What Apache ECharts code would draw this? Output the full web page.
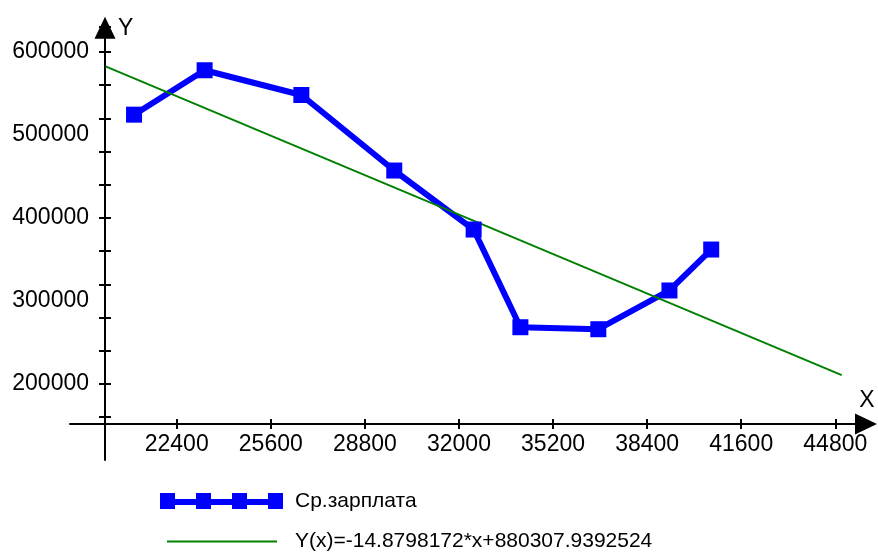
<!DOCTYPE html>
<html>
<head>
<meta charset="utf-8">
<script src="https://cdn.jsdelivr.net/npm/echarts@6/dist/echarts.min.js"></script>
<style>
  html, body { margin: 0; padding: 0; background: #fff; }
  #chart { width: 878px; height: 556px; }
</style>
</head>
<body>
<div id="chart"></div>
<script>
// salary points (x, y)
const salaryX = [20950, 23350, 26640, 29800, 32500, 34090, 36740, 39160, 40580];
const salaryY = [524500, 578000, 548200, 457200, 386100, 268400, 266000, 312700, 362000];
// trend line end points
const trendX = [19980, 45020];
const trendY = [582700, 210600];
// axis steps
const xStep = 3200;
const yTickStep = 40000;
const yLabelStep = 100000;

const salaryName = "Ср.зарплата";
const trendName = "Y(x)=-14.8798172*x+880307.9392524";

const font = "'Liberation Sans', Arial, sans-serif";
const black = "#000";

const pair = (xs, ys) => xs.map((x, i) => [x, ys[i]]);
const plain = (v) => String(v);

// legend icons (130 x 16 box)
const salaryIcon = "path://M0,0h15v16h-15z M36,0h15v16h-15z M72,0h15v16h-15z M108,0h15v16h-15z M0,6h123v6h-123z M130,0L130,16";
const trendIcon = "path://M0,0L0,16 M130,0L130,16 M7,7h110v2h-110z";

const chart = echarts.init(document.getElementById("chart"));

const tickAxisX = (inside, extra) => Object.assign({
  type: "value", gridIndex: 0, position: "bottom", offset: 6.8,
  min: 22400, max: 45600, interval: xStep,
  axisLine: { show: false, onZero: false },
  axisTick: { show: true, inside: inside, length: 5, lineStyle: { color: black, width: 2 } },
  axisLabel: { show: false },
  splitLine: { show: false }
}, extra || {});

const tickAxisY = (inside) => ({
  type: "value", gridIndex: 0, position: "left", offset: 71.7,
  min: 160000, max: 630000, interval: yTickStep,
  axisLine: { show: false, onZero: false },
  axisTick: { show: true, inside: inside, length: 6, lineStyle: { color: black, width: 2 } },
  axisLabel: { show: false },
  splitLine: { show: false }
});

chart.setOption({
  animation: false,
  backgroundColor: "#fff",
  grid: [
    { left: 176.7, right: 19.2, top: 27.1, bottom: 138.8 },  // ticks + x labels
    { left: 176.7, right: 19.2, top: 52, bottom: 89 },       // y labels
    { left: 70, right: 12, top: 27.7, bottom: 96 },          // axis lines with arrows
    { left: 82.6, right: 19.2, top: 27.1, bottom: 138.8 }    // data
  ],
  xAxis: [
    tickAxisX(false, {
      axisLabel: {
        show: true, margin: 9, color: black, fontFamily: font, fontSize: 23,
        showMinLabel: true, showMaxLabel: false, formatter: plain
      }
    }),
    tickAxisX(true),
    { type: "value", gridIndex: 1, show: false, min: 0, max: 1 },
    {
      type: "value", gridIndex: 2, position: "bottom", offset: -36, min: 0, max: 1,
      name: "X", nameLocation: "end", nameGap: 1,
      nameTextStyle: { color: black, fontFamily: font, fontSize: 23, align: "center", verticalAlign: "bottom", padding: [0, 0, 12, 0] },
      axisLine: { show: true, onZero: false, symbol: ["none", "triangle"], symbolSize: [21, 22], lineStyle: { color: black, width: 2 } },
      axisTick: { show: false }, axisLabel: { show: false }, splitLine: { show: false }
    },
    { type: "value", gridIndex: 3, show: false, min: 19200, max: 45600 }
  ],
  yAxis: [
    tickAxisY(false),
    tickAxisY(true),
    {
      type: "value", gridIndex: 1, position: "left", offset: 71.7,
      min: 100000, max: 600000, interval: yLabelStep,
      axisLine: { show: false, onZero: false },
      axisTick: { show: false },
      axisLabel: { show: true, margin: 16, color: black, fontFamily: font, fontSize: 23, showMinLabel: false, showMaxLabel: true, formatter: plain },
      splitLine: { show: false }
    },
    {
      type: "value", gridIndex: 2, position: "left", offset: -35, min: 0, max: 1,
      name: "Y", nameLocation: "end", nameGap: 10.7,
      nameTextStyle: { color: black, fontFamily: font, fontSize: 23, align: "left", verticalAlign: "top", padding: [0, 0, 0, 13] },
      axisLine: { show: true, onZero: false, symbol: ["none", "triangle"], symbolSize: [21, 22], lineStyle: { color: black, width: 2 } },
      axisTick: { show: false }, axisLabel: { show: false }, splitLine: { show: false }
    },
    { type: "value", gridIndex: 3, show: false, min: 160000, max: 630000 }
  ],
  legend: {
    orient: "vertical",
    left: 160,
    top: 489,
    padding: 0,
    itemWidth: 130,
    itemHeight: 16,
    itemGap: 16.4,
    selectedMode: false,
    textStyle: { color: black, fontFamily: font, fontSize: 21, lineHeight: 24 },
    data: [
      { name: salaryName, icon: salaryIcon, itemStyle: { color: "#0000ff", borderWidth: 0 } },
      { name: trendName, icon: trendIcon, itemStyle: { color: "#008000", borderWidth: 0 } }
    ]
  },
  series: [
    {
      name: salaryName,
      type: "line",
      xAxisIndex: 4,
      yAxisIndex: 4,
      data: pair(salaryX, salaryY),
      symbol: "rect",
      symbolSize: 16,
      itemStyle: { color: "#0000ff" },
      lineStyle: { color: "#0000ff", width: 6, join: "round" }
    },
    {
      name: trendName,
      type: "line",
      xAxisIndex: 4,
      yAxisIndex: 4,
      data: pair(trendX, trendY),
      symbol: "none",
      itemStyle: { color: "#008000" },
      lineStyle: { color: "#008000", width: 2 }
    }
  ]
});
</script>
</body>
</html>
